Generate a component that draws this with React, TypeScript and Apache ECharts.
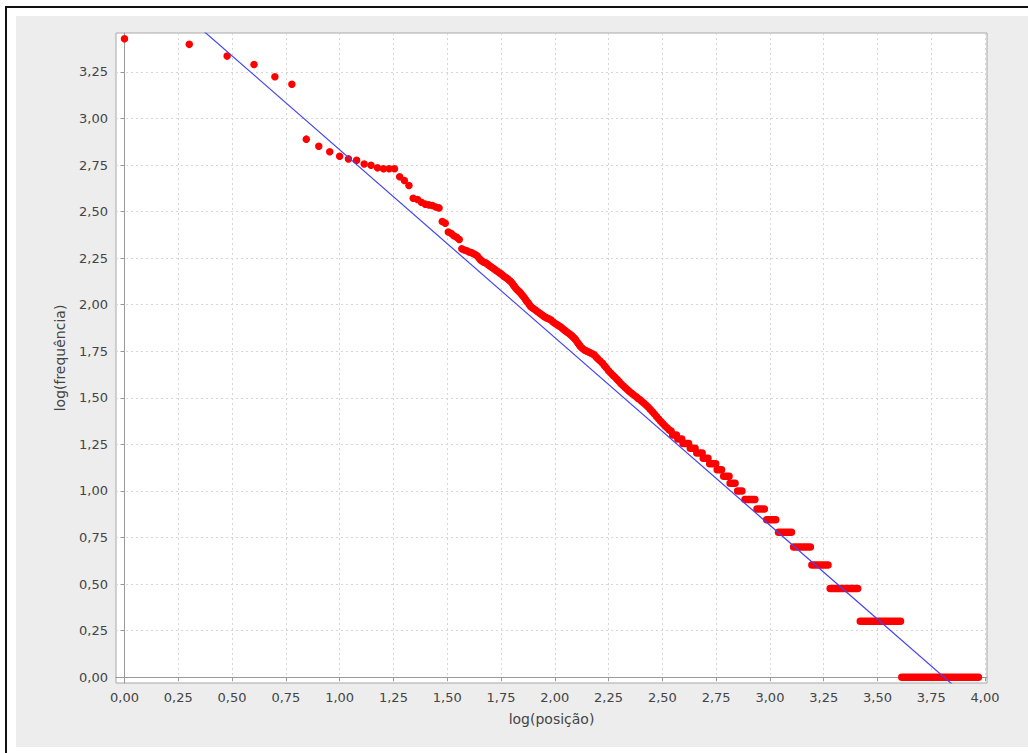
import React, { useEffect, useRef } from "react";
import * as echarts from "echarts";

// ---- data (log10 rank, log10 frequency) ----
const rankPoints: [number, number][] = [
  [0.0, 3.428], [0.301, 3.398], [0.477, 3.335], [0.602, 3.29], [0.699, 3.224],
  [0.778, 3.184], [0.845, 2.889], [0.903, 2.851], [0.954, 2.821], [1.0, 2.797],
  [1.041, 2.783], [1.079, 2.776], [1.114, 2.756], [1.146, 2.749], [1.176, 2.735],
  [1.204, 2.73], [1.23, 2.73], [1.255, 2.73], [1.279, 2.687], [1.301, 2.667],
  [1.322, 2.64], [1.342, 2.572], [1.362, 2.565], [1.38, 2.55], [1.398, 2.54],
  [1.415, 2.536], [1.431, 2.533], [1.447, 2.525], [1.462, 2.52], [1.477, 2.447],
  [1.491, 2.438], [1.505, 2.39], [1.519, 2.382], [1.531, 2.37], [1.544, 2.362],
  [1.556, 2.35], [1.568, 2.3], [1.58, 2.294], [1.591, 2.29], [1.602, 2.283],
  [1.612, 2.28], [1.62, 2.275], [1.63, 2.27], [1.64, 2.262], [1.648, 2.25],
  [1.655, 2.24], [1.662, 2.235], [1.67, 2.228], [1.678, 2.225], [1.685, 2.22],
  [1.692, 2.213], [1.7, 2.206], [1.708, 2.2], [1.715, 2.195], [1.724, 2.187],
  [1.733, 2.18], [1.742, 2.172], [1.75, 2.166], [1.758, 2.158], [1.765, 2.152],
  [1.772, 2.146], [1.78, 2.14], [1.788, 2.132], [1.795, 2.125], [1.802, 2.115],
  [1.808, 2.105], [1.813, 2.098], [1.818, 2.09], [1.824, 2.082], [1.83, 2.075],
  [1.836, 2.069], [1.841, 2.063], [1.847, 2.054], [1.853, 2.045], [1.859, 2.036],
  [1.865, 2.027], [1.87, 2.018], [1.876, 2.01], [1.882, 2.0], [1.888, 1.991],
  [1.894, 1.985], [1.9, 1.98], [1.91, 1.972], [1.919, 1.964], [1.927, 1.957],
  [1.935, 1.95], [1.943, 1.943], [1.95, 1.937], [1.958, 1.932], [1.965, 1.928],
  [1.973, 1.924], [1.981, 1.919], [1.988, 1.912], [1.995, 1.905], [2.004, 1.898],
  [2.012, 1.892], [2.02, 1.886], [2.028, 1.88], [2.036, 1.873], [2.043, 1.866],
  [2.05, 1.859], [2.058, 1.852], [2.066, 1.845], [2.074, 1.839], [2.08, 1.832],
  [2.086, 1.826], [2.092, 1.819], [2.097, 1.812], [2.104, 1.8], [2.11, 1.79],
  [2.115, 1.782], [2.12, 1.775], [2.128, 1.766], [2.136, 1.758], [2.143, 1.754],
  [2.15, 1.75], [2.158, 1.746], [2.165, 1.742], [2.174, 1.737], [2.183, 1.731],
  [2.192, 1.72], [2.2, 1.71], [2.211, 1.698], [2.222, 1.686], [2.231, 1.673],
  [2.24, 1.66], [2.25, 1.646], [2.26, 1.633], [2.27, 1.621], [2.28, 1.61],
  [2.29, 1.599], [2.299, 1.588], [2.308, 1.576], [2.318, 1.565], [2.328, 1.554],
  [2.338, 1.543], [2.347, 1.534], [2.357, 1.525], [2.367, 1.516], [2.377, 1.507],
  [2.386, 1.498], [2.396, 1.49], [2.405, 1.48], [2.415, 1.471], [2.425, 1.46],
  [2.435, 1.45], [2.444, 1.438], [2.454, 1.426], [2.463, 1.413], [2.473, 1.4],
  [2.483, 1.386], [2.493, 1.373], [2.502, 1.362], [2.512, 1.35], [2.522, 1.339],
  [2.532, 1.328], [2.541, 1.322],
];

// runs of equal frequency: [log rank start, log rank end, log frequency]
const frequencyRuns: [number, number, number][] = [
  [2.548, 2.565, 1.301], [2.572, 2.59, 1.279], [2.596, 2.622, 1.255],
  [2.63, 2.652, 1.23], [2.66, 2.685, 1.204], [2.69, 2.712, 1.176],
  [2.72, 2.748, 1.146],
  [2.755, 2.775, 1.114], [2.785, 2.81, 1.079], [2.815, 2.838, 1.041],
  [2.85, 2.87, 1.0], [2.884, 2.93, 0.954], [2.94, 2.974, 0.903],
  [2.985, 3.027, 0.845], [3.04, 3.1, 0.778], [3.11, 3.188, 0.699],
  [3.195, 3.27, 0.602], [3.28, 3.408, 0.477], [3.42, 3.607, 0.301],
  [3.613, 3.969, 0.0],
];

// fitted power-law line (two end points, clipped by the plot)
const fitLine: [number, number][] = [
  [0.3, 3.5376], [3.9, -0.0912],
];

const xTicks = [0, 0.25, 0.5, 0.75, 1, 1.25, 1.5, 1.75, 2, 2.25, 2.5, 2.75, 3, 3.25, 3.5, 3.75, 4];
const yTicks = [0, 0.25, 0.5, 0.75, 1, 1.25, 1.5, 1.75, 2, 2.25, 2.5, 2.75, 3, 3.25];

const xName = "log(posição)";
const yName = "log(frequência)";

const fmt = (v: number) => v.toFixed(2).replace(".", ",");

export default function App() {
  const ref = useRef<HTMLDivElement>(null);
  useEffect(() => {
    if (!ref.current) return;
    const chart = echarts.init(ref.current, undefined, { renderer: "svg" });
    const font = "DejaVu Sans";
    const labelStyle = {
      color: "#444",
      fontSize: 13,
      fontFamily: font,
      formatter: (v: number) => fmt(v),
    };
    const dot = 7.5;
    const gridLine = { color: "#d6d6d6", type: [2, 3], width: 1 };
    chart.setOption({
      animation: false,
      backgroundColor: "#ffffff",
      graphic: [
        { type: "rect", shape: { x: 5, y: 6, width: 1030, height: 2 }, style: { fill: "#111" }, z: 0 },
        { type: "rect", shape: { x: 5, y: 6, width: 2, height: 760 }, style: { fill: "#111" }, z: 0 },
        { type: "rect", shape: { x: 16, y: 16, width: 1020, height: 731 }, style: { fill: "#ededed" }, z: -10 },
      ],
      grid: {
        left: 116,
        top: 33,
        width: 871,
        height: 650,
        show: true,
        backgroundColor: "#ffffff",
        borderColor: "#a8a8a8",
        borderWidth: 1,
      },
      xAxis: {
        type: "value",
        min: -0.0395,
        max: 4.009,
        name: xName,
        nameLocation: "middle",
        nameGap: 29,
        nameTextStyle: { color: "#444", fontSize: 14, fontFamily: font },
        axisLine: { show: true, lineStyle: { color: "#999" } },
        axisTick: { show: true, length: 4, lineStyle: { color: "#999" }, customValues: xTicks },
        axisLabel: { ...labelStyle, margin: 8, customValues: xTicks },
        splitLine: { show: true, lineStyle: gridLine },
      },
      yAxis: {
        type: "value",
        min: -0.031,
        max: 3.459,
        name: yName,
        nameLocation: "middle",
        nameGap: 49,
        nameRotate: 90,
        nameTextStyle: { color: "#444", fontSize: 14, fontFamily: font },
        axisLine: { show: true, lineStyle: { color: "#999" } },
        axisTick: { show: true, length: 4, lineStyle: { color: "#999" }, customValues: yTicks },
        axisLabel: { ...labelStyle, margin: 8, customValues: yTicks },
        splitLine: { show: true, lineStyle: gridLine },
      },
      series: [
        {
          type: "scatter",
          data: rankPoints,
          symbol: "circle",
          symbolSize: dot,
          itemStyle: { color: "#ff0000", opacity: 1 },
          z: 3,
        },
        {
          type: "custom",
          data: frequencyRuns,
          encode: { x: [0, 1], y: 2 },
          renderItem: (params: any, api: any) => {
            const s = api.coord([api.value(0), api.value(2)]);
            const e = api.coord([api.value(1), api.value(2)]);
            const h = dot;
            return {
              type: "rect",
              shape: { x: s[0] - h / 2, y: s[1] - h / 2, width: e[0] - s[0] + h, height: h, r: h / 2 },
              style: { fill: "#ff0000" },
            };
          },
          z: 3,
        },
        {
          type: "line",
          data: fitLine,
          symbol: "none",
          clip: true,
          lineStyle: { color: "#4444f2", width: 1.2 },
          z: 4,
        },
      ],
    });
    return () => chart.dispose();
  }, []);
  return (
    <div
      ref={ref}
      style={{ position: "absolute", left: 0, top: 0, width: 1028, height: 753 }}
    />
  );
}
